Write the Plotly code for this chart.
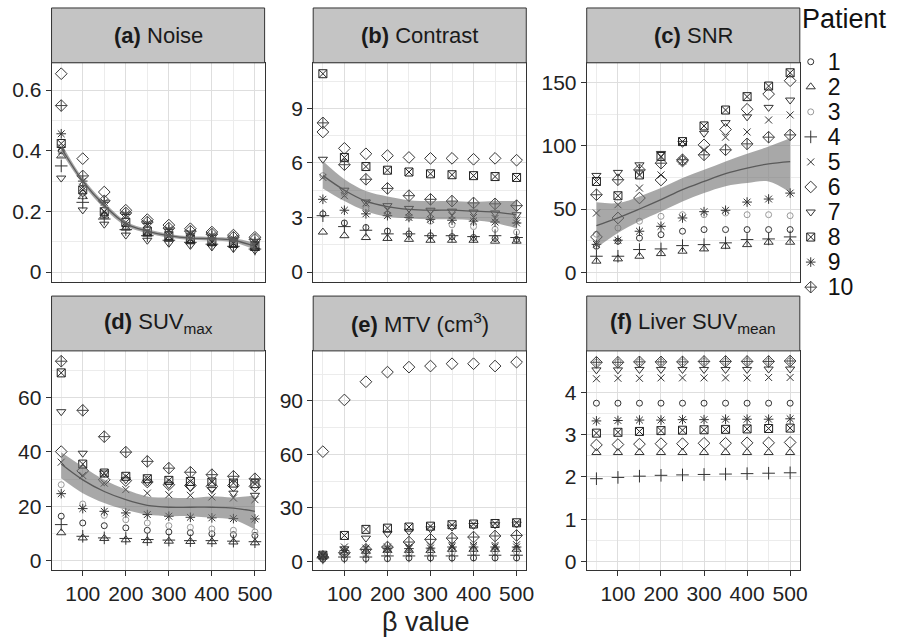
import plotly.graph_objects as go

beta = [50, 100, 150, 200, 250, 300, 350, 400, 450, 500]
patients = ["1", "2", "3", "4", "5", "6", "7", "8", "9", "10"]

# (a) Noise
noise = {
    "1": [0.40, 0.26, 0.19, 0.15, 0.13, 0.115, 0.105, 0.098, 0.092, 0.082],
    "2": [0.383, 0.249, 0.185, 0.145, 0.125, 0.11, 0.10, 0.095, 0.088, 0.078],
    "3": [0.39, 0.25, 0.185, 0.148, 0.128, 0.112, 0.102, 0.096, 0.09, 0.08],
    "4": [0.35, 0.23, 0.175, 0.14, 0.12, 0.105, 0.098, 0.092, 0.085, 0.076],
    "5": [0.41, 0.28, 0.20, 0.155, 0.132, 0.118, 0.108, 0.10, 0.094, 0.085],
    "6": [0.654, 0.374, 0.264, 0.204, 0.173, 0.155, 0.143, 0.132, 0.122, 0.115],
    "7": [0.31, 0.205, 0.158, 0.122, 0.105, 0.095, 0.088, 0.083, 0.078, 0.072],
    "8": [0.424, 0.271, 0.199, 0.164, 0.135, 0.12, 0.11, 0.10, 0.095, 0.085],
    "9": [0.456, 0.30, 0.23, 0.19, 0.16, 0.14, 0.128, 0.12, 0.11, 0.10],
    "10": [0.549, 0.317, 0.235, 0.195, 0.165, 0.145, 0.135, 0.125, 0.115, 0.108],
}
noise_fit = [0.41, 0.30, 0.22, 0.16, 0.135, 0.12, 0.112, 0.11, 0.105, 0.085]
noise_lo = [0.395, 0.29, 0.21, 0.152, 0.128, 0.114, 0.106, 0.104, 0.098, 0.073]
noise_hi = [0.425, 0.31, 0.23, 0.168, 0.142, 0.126, 0.118, 0.116, 0.112, 0.097]

# (b) Contrast
contrast = {
    "1": [3.2, 2.7, 2.45, 2.25, 2.1, 2.0, 1.95, 1.9, 1.85, 1.8],
    "2": [2.2, 2.0, 1.9, 1.85, 1.8, 1.75, 1.75, 1.75, 1.7, 1.7],
    "3": [5.3, 4.3, 3.5, 3.2, 3.0, 2.8, 2.6, 2.5, 2.35, 2.2],
    "4": [3.1, 2.5, 2.3, 2.1, 2.1, 2.0, 2.0, 1.95, 2.0, 1.9],
    "5": [5.2, 4.2, 3.8, 3.4, 3.3, 3.2, 3.1, 3.0, 2.95, 2.85],
    "6": [7.7, 6.8, 6.5, 6.4, 6.3, 6.25, 6.25, 6.2, 6.25, 6.15],
    "7": [6.2, 4.5, 3.85, 3.65, 3.5, 3.4, 3.35, 3.3, 3.25, 3.15],
    "8": [10.9, 6.3, 5.8, 5.6, 5.5, 5.4, 5.35, 5.3, 5.25, 5.2],
    "9": [4.0, 3.4, 3.2, 3.1, 3.0, 2.9, 2.85, 2.8, 2.75, 2.7],
    "10": [8.2, 5.9, 5.1, 4.6, 4.2, 4.0, 3.9, 3.8, 3.75, 3.65],
}
contrast_fit = [5.3, 4.5, 3.9, 3.6, 3.45, 3.4, 3.4, 3.35, 3.3, 3.15]
contrast_lo = [4.6, 3.9, 3.35, 3.05, 2.95, 2.9, 2.9, 2.85, 2.7, 2.4]
contrast_hi = [6.1, 5.1, 4.45, 4.15, 3.95, 3.9, 3.9, 3.85, 3.9, 3.9]

# (c) SNR
snr = {
    "1": [20.5, 24.5, 27, 29.7, 32.4, 33.7, 33.7, 33.7, 33.7, 33.7],
    "2": [8.7, 10.5, 12.6, 14.7, 16.6, 18.4, 20.5, 21.8, 23.7, 23.7],
    "3": [30, 35, 40.3, 44.2, 45.5, 45.5, 46.8, 45.5, 45.5, 44.7],
    "4": [12.6, 12.6, 17.9, 18.4, 21, 21.8, 23.2, 25.8, 26.3, 27.9],
    "5": [46.8, 53.4, 66.6, 77, 88, 97, 106.9, 111, 120.5, 124.5],
    "6": [27.9, 42.9, 58.7, 73, 88, 100.8, 113, 129, 141, 151.6],
    "7": [76.6, 79, 85, 94, 102, 110, 118.4, 123, 130.5, 136.3],
    "8": [71.8, 60.5, 77, 91.6, 103.4, 115.8, 128.4, 139, 147.4, 157.9],
    "9": [22, 25.3, 32.4, 36.3, 42.9, 47.9, 49, 55.5, 57.9, 62.6],
    "10": [61.3, 73.2, 81, 86.3, 89, 92.9, 96.9, 101.6, 106.9, 108.7],
}
snr_fit = [36.8, 43, 50, 57.4, 65.3, 71.8, 78, 82.4, 85.8, 87.6]
snr_lo = [19.2, 31, 40.3, 48, 56, 62.6, 68, 70.5, 71.8, 63]
snr_hi = [55.3, 54.7, 60, 66.6, 74.5, 81, 87.6, 93.7, 99.5, 106]

# (d) SUVmax
suvmax = {
    "1": [16.3, 13.8, 12.8, 12, 11.1, 10.5, 10.2, 9.8, 9.5, 9.2],
    "2": [10.2, 8.3, 8.1, 7.6, 7.3, 7.1, 7.0, 6.9, 6.8, 6.5],
    "3": [27.9, 20.8, 16.6, 15, 13.8, 12.8, 12.2, 11.6, 11.1, 10.5],
    "4": [13.2, 8.9, 8.3, 8.1, 7.7, 7.5, 7.3, 7.3, 7.1, 6.9],
    "5": [36.2, 31.3, 28.5, 26.1, 24.8, 24.2, 24, 23.4, 23, 22.4],
    "6": [40.1, 33, 29.7, 29.4, 28.9, 27.9, 27.6, 27.3, 27.6, 27.3],
    "7": [54.8, 39.5, 32.2, 29.7, 28.9, 27.9, 26.9, 26.1, 24.8, 24],
    "8": [69.1, 35.5, 32.2, 31, 30.1, 29.5, 29.1, 28.9, 28.5, 28.3],
    "9": [24.6, 19.1, 18.1, 17.5, 16.9, 16.3, 15.9, 15.7, 15.4, 15.3],
    "10": [73.4, 55.3, 45.6, 39.9, 36.5, 34, 32.5, 31.6, 31, 30.1],
}
suvmax_fit = [35.5, 29.7, 25.4, 22.4, 20.3, 19.6, 19.6, 19.6, 19.3, 18.1]
suvmax_lo = [30.3, 24.8, 21.2, 18.7, 16.9, 16.3, 16.3, 15.7, 15.0, 11.4]
suvmax_hi = [39.9, 34.6, 29.7, 26.1, 23.6, 23.2, 23.0, 23.6, 23.2, 24.0]

# (e) MTV (cm3)
mtv = {
    "1": [1.1, 1.5, 1.5, 1.5, 1.9, 1.9, 1.9, 1.9, 1.9, 1.9],
    "2": [3.7, 4.8, 5.6, 6.1, 6.1, 6.1, 6.7, 6.7, 6.7, 6.7],
    "3": [1.9, 3.4, 3.8, 4.3, 4.3, 4.8, 4.8, 4.8, 5.2, 5.2],
    "4": [1.9, 2.4, 2.4, 3.0, 3.0, 3.0, 3.0, 3.4, 3.4, 3.4],
    "5": [3.0, 8.0, 7.4, 8.0, 8.0, 8.6, 8.9, 8.9, 8.9, 9.3],
    "6": [61.5, 90.5, 100.7, 106.1, 108.9, 109.5, 110.8, 110.8, 109.5, 111.7],
    "7": [3.0, 7.0, 13.0, 15.5, 16.8, 18.2, 19.2, 20.1, 20.5, 20.9],
    "8": [3.4, 14.5, 17.9, 18.6, 19.2, 19.7, 20.5, 20.9, 21.2, 21.6],
    "9": [3.4, 6.1, 6.7, 7.1, 7.1, 7.4, 8.0, 8.0, 8.0, 8.0],
    "10": [2.4, 4.8, 6.7, 8.0, 10.8, 12.3, 13.0, 13.6, 14.2, 14.5],
}

# (f) Liver SUVmean
liver = {
    "1": [3.75, 3.75, 3.75, 3.75, 3.75, 3.75, 3.75, 3.75, 3.75, 3.75],
    "2": [2.58, 2.58, 2.58, 2.58, 2.58, 2.58, 2.58, 2.58, 2.58, 2.58],
    "3": [4.72, 4.72, 4.73, 4.73, 4.73, 4.74, 4.74, 4.74, 4.74, 4.75],
    "4": [1.96, 1.99, 2.02, 2.04, 2.05, 2.06, 2.07, 2.08, 2.09, 2.10],
    "5": [4.33, 4.34, 4.34, 4.35, 4.35, 4.35, 4.35, 4.35, 4.36, 4.36],
    "6": [2.76, 2.77, 2.78, 2.79, 2.79, 2.80, 2.80, 2.81, 2.81, 2.82],
    "7": [4.54, 4.54, 4.55, 4.55, 4.55, 4.55, 4.55, 4.55, 4.56, 4.56],
    "8": [3.04, 3.06, 3.08, 3.10, 3.11, 3.12, 3.13, 3.14, 3.15, 3.16],
    "9": [3.33, 3.34, 3.35, 3.35, 3.36, 3.36, 3.37, 3.37, 3.37, 3.38],
    "10": [4.72, 4.72, 4.73, 4.73, 4.73, 4.74, 4.74, 4.74, 4.74, 4.75],
}

panels = [
    ("<b>(a)</b> Noise", noise, (noise_fit, noise_lo, noise_hi), [-0.033, 0.69], 0.2),
    ("<b>(b)</b> Contrast", contrast, (contrast_fit, contrast_lo, contrast_hi), [-0.55, 11.5], 3),
    ("<b>(c)</b> SNR", snr, (snr_fit, snr_lo, snr_hi), [-7.9, 165.8], 50),
    ("<b>(d)</b> SUV<sub>max</sub>", suvmax, (suvmax_fit, suvmax_lo, suvmax_hi), [-3.6, 77.2], 20),
    ("<b>(e)</b> MTV (cm<sup>3</sup>)", mtv, None, [-5.0, 118.0], 30),
    ("<b>(f)</b> Liver SUV<sub>mean</sub>", liver, None, [-0.21, 4.99], 1),
]

symbols = {
    "1": ("circle-open", 6, "#333333"),
    "2": ("triangle-up-open", 8, "#333333"),
    "3": ("circle-open", 6, "#9a9a9a"),
    "4": ("cross-thin-open", 9, "#333333"),
    "5": ("x-thin-open", 7, "#333333"),
    "6": ("diamond-open", 9, "#333333"),
    "7": ("triangle-down-open", 8, "#333333"),
    "8": ("square-x-open", 8, "#222222"),
    "9": ("asterisk-open", 8, "#333333"),
    "10": ("diamond-cross-open", 9, "#444444"),
}

W, H = 899, 639
xdom = [(52, 267), (316, 531), (592, 807)]
ydom_px = [(63, 283), (352, 572)]
strip_px = [(8, 63), (297, 352)]

FONT = "Liberation Sans, Arial, sans-serif"
TICK = 21
fig = go.Figure()
layout = dict(
    width=W, height=H, margin=dict(l=0, r=0, t=0, b=0),
    paper_bgcolor="white", plot_bgcolor="white",
    font=dict(family=FONT, size=TICK, color="#222222"),
    showlegend=False,
    shapes=[], annotations=[],
)

for i, (title, data, smooth, yr, dt) in enumerate(panels):
    row, col = divmod(i, 3)
    n = i + 1
    xa = "x" if n == 1 else f"x{n}"
    ya = "y" if n == 1 else f"y{n}"
    x0, x1 = xdom[col]
    t0, t1 = ydom_px[row]
    for p in patients:
        sym, sz, colr = symbols[p]
        fig.add_trace(go.Scatter(
            x=beta, y=data[p], mode="markers", name=p, xaxis=xa, yaxis=ya,
            marker=dict(symbol=sym, size=sz, color=colr, line=dict(color=colr, width=1)),
        ))
    if smooth is not None:
        fit, lo, hi = smooth
        fig.add_trace(go.Scatter(x=beta, y=hi, mode="lines", line=dict(width=0, shape="spline"),
                                 xaxis=xa, yaxis=ya, hoverinfo="skip"))
        fig.add_trace(go.Scatter(x=beta, y=lo, mode="lines", line=dict(width=0, shape="spline"),
                                 fill="tonexty", fillcolor="rgba(110,110,110,0.6)",
                                 xaxis=xa, yaxis=ya, hoverinfo="skip"))
        fig.add_trace(go.Scatter(x=beta, y=fit, mode="lines", line=dict(width=1.3, color="#5a5a5a", shape="spline"),
                                 xaxis=xa, yaxis=ya, hoverinfo="skip"))
    xkey = "xaxis" if n == 1 else f"xaxis{n}"
    ykey = "yaxis" if n == 1 else f"yaxis{n}"
    layout[xkey] = dict(
        domain=[x0 / W, x1 / W], anchor=ya, range=[27.5, 522.5],
        tickmode="linear", tick0=0, dtick=100,
        showticklabels=(row == 1), ticks="outside" if row == 1 else "",
        ticklen=5, tickwidth=1, tickcolor="#333333",
        tickfont=dict(size=TICK, color="#222222"),
        showgrid=True, gridcolor="#dedede", gridwidth=1.2,
        minor=dict(dtick=50, tick0=0, showgrid=True, gridcolor="#ececec", gridwidth=0.8),
        showline=True, linecolor="#333333", linewidth=1, mirror=True, zeroline=False,
    )
    layout[ykey] = dict(
        domain=[1 - t1 / H, 1 - t0 / H], anchor=xa, range=yr,
        tickmode="linear", tick0=0, dtick=dt,
        ticks="outside", ticklen=5, tickwidth=1, tickcolor="#333333",
        tickfont=dict(size=TICK, color="#222222"),
        showgrid=True, gridcolor="#dedede", gridwidth=1.2,
        minor=dict(dtick=dt / 2, tick0=0, showgrid=True, gridcolor="#ececec", gridwidth=0.8),
        showline=True, linecolor="#333333", linewidth=1, mirror=True, zeroline=False,
    )
    s0, s1 = strip_px[row]
    layout["shapes"].append(dict(
        type="rect", xref="paper", yref="paper",
        x0=x0 / W, x1=x1 / W, y0=1 - s1 / H, y1=1 - s0 / H,
        fillcolor="#c4c4c4", line=dict(color="#333333", width=1), layer="above",
    ))
    layout["annotations"].append(dict(
        text=title, xref="paper", yref="paper",
        x=(x0 + x1) / 2 / W, y=1 - (s0 + s1) / 2 / H, xanchor="center", yanchor="middle",
        showarrow=False, font=dict(size=22, color="#1a1a1a"),
    ))

# Legend drawn as its own small categorical axis
for p in patients:
    sym, sz, colr = symbols[p]
    fig.add_trace(go.Scatter(
        x=[0], y=[p], mode="markers", xaxis="x7", yaxis="y7", hoverinfo="skip",
        marker=dict(symbol=sym, size=sz, color=colr, line=dict(color=colr, width=1)),
    ))
leg_top, leg_bot = 62 - 12.6, 288 + 12.6
layout["xaxis7"] = dict(domain=[810 / W, 826 / W], anchor="y7", range=[-1, 1],
                        visible=False, fixedrange=True)
layout["yaxis7"] = dict(domain=[1 - leg_bot / H, 1 - leg_top / H], anchor="x7",
                        type="category", categoryorder="array", categoryarray=patients,
                        tickmode="array", tickvals=patients, ticktext=patients,
                        range=[9.5, -0.5], side="right", showgrid=False, showline=False,
                        zeroline=False, ticks="", ticklabelstandoff=8,
                        tickfont=dict(size=23, color="#111111"), fixedrange=True)
layout["annotations"].append(dict(
    text="Patient", xref="paper", yref="paper", x=807 / W, y=1 - 19 / H,
    xanchor="left", yanchor="middle", showarrow=False, font=dict(size=27, color="#111111"),
))

layout["annotations"].append(dict(
    text="β value", xref="paper", yref="paper", x=430 / W, y=1 - 624 / H,
    xanchor="center", yanchor="middle", showarrow=False, font=dict(size=27, color="#222222"),
))

fig.update_layout(**layout)
fig.write_html("out.html")
